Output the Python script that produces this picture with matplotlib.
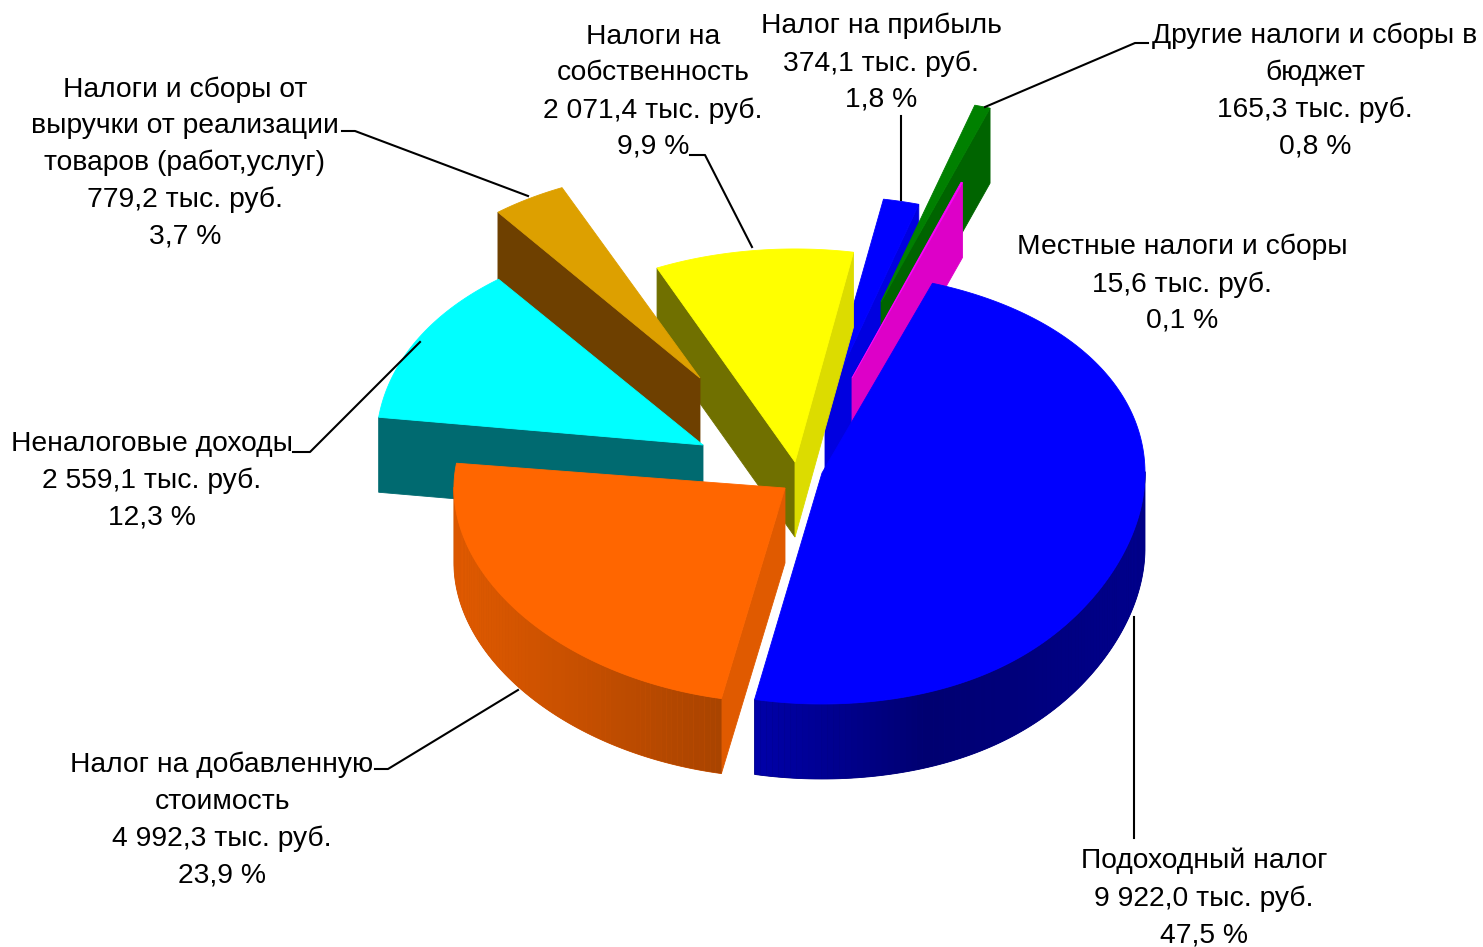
import numpy as np
import matplotlib
matplotlib.use('Agg')
import matplotlib.pyplot as plt

plt.rcParams['font.family'] = ['Liberation Sans', 'DejaVu Sans']

# data, in the order of the slices (clockwise)
names = ['Подоходный налог', 'Налог на добавленную\nстоимость', 'Неналоговые доходы',
         'Налоги и сборы от\nвыручки от реализации\nтоваров (работ,услуг)',
         'Налоги на\nсобственность', 'Налог на прибыль',
         'Другие налоги и сборы в\nбюджет', 'Местные налоги и сборы']
values = [9922.0, 4992.3, 2559.1, 779.2, 2071.4, 374.1, 165.3, 15.6]
percents = [47.5, 23.9, 12.3, 3.7, 9.9, 1.8, 0.8, 0.1]

# exploded slice tips in pixels and small per slice corrections of the radius
tips = [(822, 473), (785, 488), (703, 445), (700, 378), (795, 462), (825, 405), (881, 302), (852, 378)]
scale_x = [1, 1.025, 1.012, 1, 1, 1, 1, 1]
scale_y = [1, 0.93, 1.04, 1.04, 1.06, 1.04, 1.02, 1.03]
bulge = [30, 0, 0, 0, 0, 0, 0, 0]
top_colors = ['#0000FF', '#FF6600', '#00FFFF', '#DDA000', '#FFFF00', '#0000FF', '#008000', '#FF00FF']
arc_colors = ['#0000FF', '#FF6600', '#006A70', '#6E4000', '#707000', '#0000E0', '#006400', '#DD00C8']
cut_colors = ['#0000A0', '#E05A00', '#006A70', '#6E4000', '#707000', '#0000E0', '#006400', '#DD00C8']
end_cut_colors = ['#0000A0', '#E05A00', '#006A70', '#6E4000', '#DCDC00', '#0000E0', '#006400', '#DD00C8']
draw_order = [5, 6, 7, 4, 3, 2, 1, 0]

label_pos = [(1204, 898), (222, 820), (152, 481), (185, 163), (653, 92), (881, 63), (1315, 91), (1182, 284)]
leaders = [[(1134, 617), (1134, 838)],
           [(375, 769), (388, 769), (518, 690)],
           [(293, 452), (310, 452), (420, 342)],
           [(342, 131), (355, 131), (528, 196)],
           [(690, 155), (705, 155), (752, 247)],
           [(901, 116), (901, 200)],
           [(1148, 43), (1135, 43), (985, 107)]]

start_angle = 70
rx = 323
depth = 75


def project(i, deg):
    a = np.radians(deg)
    s = np.sin(a)
    r = rx + (bulge[i] * s ** 4 if s < 0 else 0)
    return (tips[i][0] + scale_x[i] * r * np.cos(a),
            tips[i][1] - scale_y[i] * s * (216 - 15 * s))


def shaded(color, deg):
    # side wall of the rim gets darker towards the front
    f = np.interp(np.cos(np.radians(deg)), [-1, -0.19, 0.3, 1], [0.88, 0.66, 0.44, 0.55])
    return tuple(c * f for c in matplotlib.colors.to_rgb(color))


def wall(p, q, color, lw=0.6):
    ax.fill([p[0], q[0], q[0], p[0]], [p[1], q[1], q[1] + depth, p[1] + depth],
            color=color, lw=lw, zorder=order())


def order():
    global z
    z += 0.001
    return z


def money(v):
    whole, frac = f'{v:.1f}'.split('.')
    if len(whole) > 3:
        whole = whole[:-3] + ' ' + whole[-3:]
    return whole + ',' + frac


fig = plt.figure(figsize=(14.83, 9.47), dpi=100)
ax = fig.add_axes([0, 0, 1, 1])
ax.set_xlim(0, 1483)
ax.set_ylim(947, 0)
ax.axis('off')
z = 1

sweeps = np.array(values) / np.sum(values) * 360
starts = start_angle - np.concatenate(([0], np.cumsum(sweeps)[:-1]))

for i in draw_order:
    tip = tips[i]
    angs = np.linspace(starts[i], starts[i] - sweeps[i], max(2, int(sweeps[i]) + 2))
    arc = [project(i, a) for a in angs]

    # only faces that look down towards the viewer
    if arc[0][0] < tip[0]:
        wall(tip, arc[0], cut_colors[i])
    if tip[0] < arc[-1][0]:
        wall(arc[-1], tip, end_cut_colors[i])

    rim = [j for j in range(len(arc) - 1) if arc[j + 1][0] < arc[j][0]]
    if rim:
        # plain rim below the strips so that their seams do not show
        pts = [arc[j] for j in rim] + [arc[rim[-1] + 1]]
        mid = (angs[rim[0]] + angs[rim[-1]]) / 2
        ax.fill([p[0] for p in pts] + [p[0] for p in pts[::-1]],
                [p[1] for p in pts] + [p[1] + depth for p in pts[::-1]],
                color=shaded(arc_colors[i], mid), lw=0.6, zorder=order())
    for j in rim:
        wall(arc[j], arc[j + 1], shaded(arc_colors[i], (angs[j] + angs[j + 1]) / 2), lw=0)

    xs = [tip[0]] + [p[0] for p in arc]
    ys = [tip[1]] + [p[1] for p in arc]
    ax.fill(xs, ys, color=top_colors[i], lw=0.6, zorder=order())

for line in leaders:
    ax.plot([p[0] for p in line], [p[1] for p in line], color='black', lw=1.5, zorder=5)

for i in range(len(names)):
    txt = names[i] + '\n' + money(values[i]) + ' тыс. руб.\n' + f'{percents[i]:.1f}'.replace('.', ',') + ' %'
    ax.text(label_pos[i][0], label_pos[i][1], txt, ha='center', va='center', fontsize=20.3,
            linespacing=1.52, color='black', zorder=6)

fig.savefig('out.png', dpi=100)
